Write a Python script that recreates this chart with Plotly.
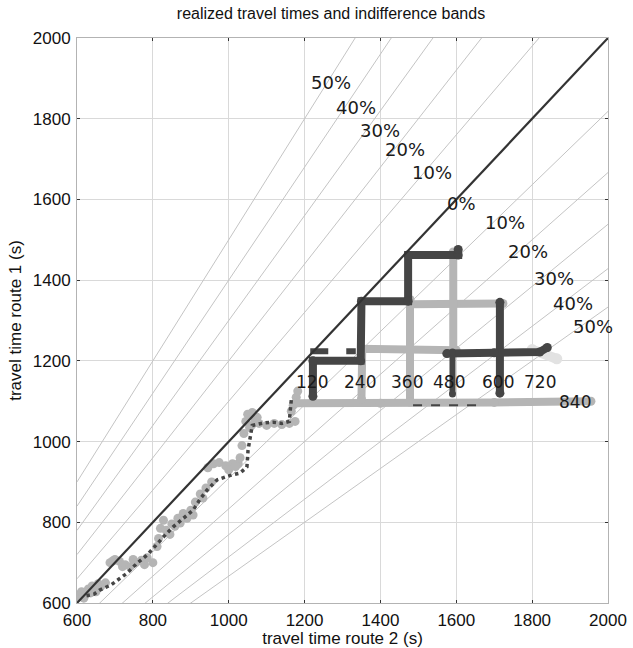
import plotly.graph_objects as go

# ---------------- data ----------------
band_pct = [10, 20, 30, 40, 50]          # indifference band widths (%)
delay_labels = ["120", "240", "360", "480", "600", "720", "840"]
delay_label_x = [1220, 1346, 1470, 1581, 1710, 1821, 1913]
delay_label_y = [1148, 1148, 1148, 1148, 1148, 1148, 1098]

# band label anchors (route2, route1)
up_label_x = [1536, 1465, 1399, 1336, 1270]
up_label_y = [1666, 1723, 1770, 1827, 1889]
low_label_x = [1728, 1789, 1858, 1908, 1960]
low_label_y = [1544, 1472, 1403, 1343, 1284]
zero_label = (1615, 1591)

x_ticks = [600, 800, 1000, 1200, 1400, 1600, 1800, 2000]
y_ticks = [600, 800, 1000, 1200, 1400, 1600, 1800, 2000]

# realized travel times, light series near the diagonal (route2, route1)
light_diag_x = [603, 608, 612, 618, 622, 630, 636, 640, 650, 656, 662, 675, 687, 694, 700, 712, 720,
                727, 740, 748, 755, 770, 778, 785, 800, 811, 815, 820, 828, 845, 858, 866, 872, 890,
                900, 906, 912, 925, 932, 940, 955, 945, 960, 975, 992, 1010, 1025, 1030, 1035,
                1040, 1045, 1050, 1055, 1062, 1068, 1075, 1060, 1080, 1100, 1120, 1140, 1160, 1175,
                1165, 1170, 1178, 1182, 880, 850, 835, 1000, 1018]
light_diag_y = [615, 622, 628, 612, 620, 635, 625, 642, 628, 648, 640, 650, 700, 704, 708, 703, 690,
                695, 690, 708, 700, 706, 695, 712, 700, 740, 760, 785, 805, 770, 790, 810, 798, 810,
                830, 818, 850, 870, 860, 885, 900, 935, 945, 948, 940, 945, 945, 960, 990,
                1020, 1050, 1068, 1035, 1072, 1058, 1060, 1040, 1045, 1040, 1045, 1042, 1045, 1050,
                1075, 1090, 1110, 1125, 822, 796, 780, 930, 938]

# dark series near the diagonal
dark_diag_x = [625, 645, 660, 690, 732, 760, 785, 800, 819, 836, 853, 880, 906, 925, 943, 969, 1000,
               1030, 1048, 1051, 1056, 1062, 1090, 1117, 1140, 1160, 1162, 1165]
dark_diag_y = [618, 622, 632, 645, 674, 700, 719, 735, 756, 772, 788, 808, 830, 858, 880, 905, 915,
               922, 937, 979, 1010, 1040, 1046, 1048, 1045, 1050, 1075, 1103]

# light tracks (vertices)
light_long_x = [1175, 1400, 1700, 1955]
light_long_y = [1095, 1095, 1097, 1100]
light_240_x = [1350, 1352, 1600]
light_240_y = [1105, 1230, 1226]
light_360_x = [1478, 1478]
light_360_y = [1098, 1352]
light_upper_x = [1478, 1723]
light_upper_y = [1340, 1342]
light_480_x = [1592, 1592]
light_480_y = [1225, 1470]
faint_720_x = [1800, 1865]
faint_720_y = [1228, 1205]

# dark tracks (vertices)
dark_stair_x = [1222, 1222, 1348, 1350, 1473, 1473, 1605, 1605]
dark_stair_y = [1112, 1200, 1200, 1348, 1348, 1462, 1462, 1476]
dark_120_x = [1215, 1335]
dark_120_y = [1224, 1224]
dark_600_x = [1715, 1715]
dark_600_y = [1345, 1120]
dark_720_x = [1575, 1700, 1820, 1840]
dark_720_y = [1218, 1220, 1222, 1233]
dark_480_x = [1590, 1590]
dark_480_y = [1222, 1118]
dark_low_x = [1486, 1655]
dark_low_y = [1090, 1090]

# ---------------- figure ----------------
LIGHT = "#b5b5b5"
DARK = "#454545"
BAND = "#c4c4c4"

fig = go.Figure()

xr = [x_ticks[0], x_ticks[-1]]
for p in band_pct:
    f = 1 + p / 100.0
    fig.add_trace(go.Scatter(x=xr, y=[v * f for v in xr], mode="lines",
                             line=dict(color=BAND, width=1), hoverinfo="skip"))
    fig.add_trace(go.Scatter(x=xr, y=[v / f for v in xr], mode="lines",
                             line=dict(color=BAND, width=1), hoverinfo="skip"))


def track(x, y, color, width=8, dash="solid", markers=True):
    fig.add_trace(go.Scatter(x=x, y=y, mode="lines+markers" if markers else "lines",
                             line=dict(color=color, width=width, dash=dash),
                             marker=dict(color=color, size=width + 1)))


fig.add_trace(go.Scatter(x=light_diag_x, y=light_diag_y, mode="markers",
                         marker=dict(color=LIGHT, size=9)))
track(light_long_x, light_long_y, LIGHT)
track(light_240_x, light_240_y, LIGHT)
track(light_360_x, light_360_y, LIGHT)
track(light_upper_x, light_upper_y, LIGHT)
track(light_480_x, light_480_y, LIGHT)
track(faint_720_x, faint_720_y, "#e2e2e2", width=10)

fig.add_trace(go.Scatter(x=dark_diag_x, y=dark_diag_y, mode="lines",
                         line=dict(color=DARK, width=3.5, dash="dot")))
track(dark_stair_x, dark_stair_y, DARK)
track(dark_120_x, dark_120_y, DARK, width=6, dash="dash", markers=False)
track(dark_600_x, dark_600_y, DARK)
track(dark_720_x, dark_720_y, DARK)
track(dark_480_x, dark_480_y, DARK, width=6)
track(dark_low_x, dark_low_y, DARK, width=2, dash="dash", markers=False)

# diagonal (0 %)
fig.add_trace(go.Scatter(x=xr, y=xr, mode="lines", line=dict(color="#333333", width=2.2)))

PCT = dict(family="DejaVu Sans", size=18, color="#1a1a1a")
NUM = dict(family="DejaVu Sans", size=17, color="#1a1a1a")
anns = []
for p, x, y in zip(band_pct, up_label_x, up_label_y):
    anns.append(dict(x=x, y=y, text=f"{p}%", showarrow=False, font=PCT))
for p, x, y in zip(band_pct, low_label_x, low_label_y):
    anns.append(dict(x=x, y=y, text=f"{p}%", showarrow=False, font=PCT))
anns.append(dict(x=zero_label[0], y=zero_label[1], text="0%", showarrow=False, font=PCT))
for t, x, y in zip(delay_labels, delay_label_x, delay_label_y):
    anns.append(dict(x=x, y=y, text=t, showarrow=False, font=NUM))

axis_common = dict(
    showgrid=True, gridcolor="#d9d9d9", gridwidth=1,
    showline=True, linecolor="#b3b3b3", linewidth=1, mirror="ticks",
    ticks="inside", ticklen=3, tickcolor="#333333",
    zeroline=False, tickfont=dict(family="Liberation Sans", size=17, color="#111"),
    ticklabelstandoff=2,
)

fig.update_layout(
    width=633, height=648,
    margin=dict(l=77, r=25, t=38, b=45),
    paper_bgcolor="white", plot_bgcolor="white",
    showlegend=False,
    title=dict(text="realized travel times and indifference bands",
               x=331 / 633, xref="container", xanchor="center",
               y=1 - 13 / 648, yref="container", yanchor="middle",
               font=dict(family="Liberation Sans", size=16, color="#111")),
    xaxis=dict(range=xr, tickvals=x_ticks, automargin=False,
               title=dict(text="travel time route 2 (s)", standoff=1,
                          font=dict(family="Liberation Sans", size=17, color="#111")),
               **axis_common),
    yaxis=dict(range=[y_ticks[0], y_ticks[-1]], tickvals=y_ticks, automargin=False,
               title=dict(text="travel time route 1 (s)", standoff=6,
                          font=dict(family="Liberation Sans", size=17, color="#111")),
               **axis_common),
    annotations=anns,
)

fig.write_html("out.html", config={"displayModeBar": False},
               post_script="document.body.style.margin='0';")
